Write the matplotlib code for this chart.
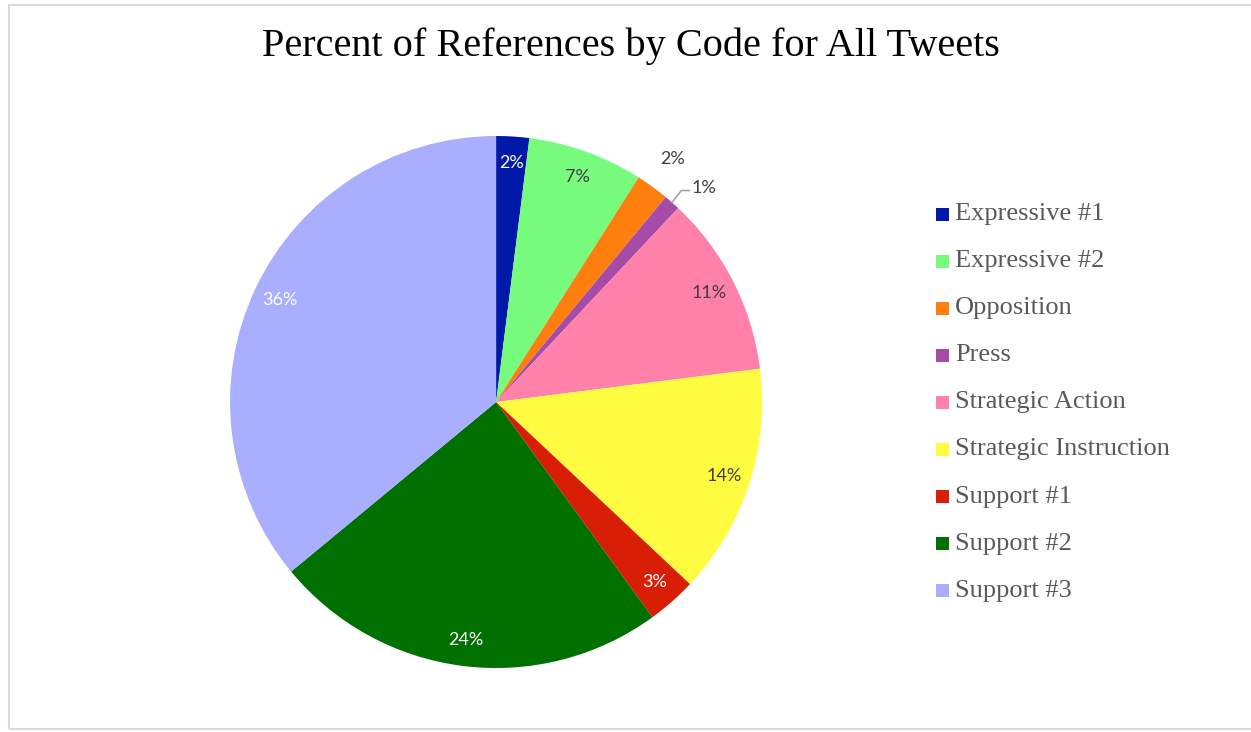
import numpy as np
import matplotlib.pyplot as plt
from matplotlib.patches import Rectangle

codes = ["Expressive #1", "Expressive #2", "Opposition", "Press",
         "Strategic Action", "Strategic Instruction", "Support #1",
         "Support #2", "Support #3"]
percents = [2, 7, 2, 1, 11, 14, 3, 24, 36]
colors = ["#0019a8", "#77fb7d", "#ff7f0e", "#a64ca8", "#ff80a8",
          "#fffb40", "#d81e05", "#007000", "#aaaeff"]
label_colors = ["white", "#404040", "#404040", "#404040", "#404040",
                "#404040", "white", "white", "white"]

fig = plt.figure(figsize=(12.51, 7.32), dpi=100)
fig.patches.append(Rectangle((0.0072, 0.004), 1.1, 0.989, transform=fig.transFigure,
                             fill=False, edgecolor="#d9d9d9", linewidth=1.5))

fig.text(0.504, 0.937, "Percent of References by Code for All Tweets",
         ha="center", va="center", fontsize=29, family="Liberation Serif")

ax = fig.add_axes([0.1839, 0.0874, 0.4253, 0.7268])
wedges, _ = ax.pie(percents, colors=colors, startangle=90, counterclock=False,
                   radius=1.0, wedgeprops=dict(linewidth=0))
ax.set_xlim(-1, 1)
ax.set_ylim(-1, 1)
ax.axis("off")

for w, name, p, tc in zip(wedges, codes, percents, label_colors):
    mid = np.deg2rad((w.theta1 + w.theta2) / 2)
    if name == "Opposition":
        ax.text(1.13 * np.cos(mid), 1.13 * np.sin(mid), f"{p}%", ha="center",
                va="center", fontsize=13, family="Lato", color="#404040")
    elif name == "Press":
        x0, y0 = 1.0 * np.cos(mid), 1.0 * np.sin(mid)
        x1, y1 = x0 + 0.035, y0 + 0.045
        ax.plot([x0, x1, x1 + 0.03], [y0, y1, y1], color="#a6a6a6", lw=1.2,
                clip_on=False)
        ax.text(x1 + 0.04, y1 + 0.01, f"{p}%", ha="left", va="center",
                fontsize=13, family="Lato", color="#404040")
    else:
        ax.text(0.9 * np.cos(mid), 0.9 * np.sin(mid), f"{p}%", ha="center",
                va="center", fontsize=13, family="Lato", color=tc)

# legend entries, one square marker per code
for i, (name, c) in enumerate(zip(codes, colors)):
    y = 1 - 214 / 732 - i * 47.1 / 732
    fig.patches.append(Rectangle((936 / 1251, y - 6.5 / 732), 13 / 1251, 13 / 732,
                                 transform=fig.transFigure, facecolor=c,
                                 edgecolor="none"))
    fig.text(955 / 1251, y, name, ha="left", va="center", fontsize=19,
             family="Liberation Serif", color="#595959")

fig.savefig("out.png", dpi=100)
